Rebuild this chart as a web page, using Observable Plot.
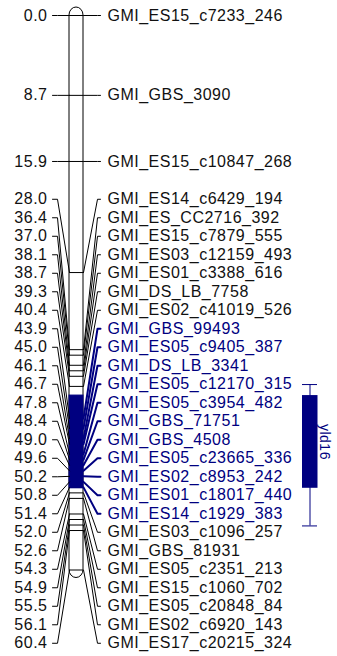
<!DOCTYPE html>
<html><head><meta charset="utf-8">
<script src="https://cdn.jsdelivr.net/npm/d3@7"></script>
<script src="https://cdn.jsdelivr.net/npm/@observablehq/plot@0.6"></script>
<style>
body{margin:0;background:#fff}
svg text{letter-spacing:0.5px}
</style>
</head><body>
<script>
// ---- data ----
const markerNames = [
  "GMI_ES15_c7233_246","GMI_GBS_3090","GMI_ES15_c10847_268","GMI_ES14_c6429_194",
  "GMI_ES_CC2716_392","GMI_ES15_c7879_555","GMI_ES03_c12159_493","GMI_ES01_c3388_616",
  "GMI_DS_LB_7758","GMI_ES02_c41019_526","GMI_GBS_99493","GMI_ES05_c9405_387",
  "GMI_DS_LB_3341","GMI_ES05_c12170_315","GMI_ES05_c3954_482","GMI_GBS_71751",
  "GMI_GBS_4508","GMI_ES05_c23665_336","GMI_ES02_c8953_242","GMI_ES01_c18017_440",
  "GMI_ES14_c1929_383","GMI_ES03_c1096_257","GMI_GBS_81931","GMI_ES05_c2351_213",
  "GMI_ES15_c1060_702","GMI_ES05_c20848_84","GMI_ES02_c6920_143","GMI_ES17_c20215_324"
];
const markerPositions = [
  0.0, 8.7, 15.9, 28.0, 36.4, 37.0, 38.1, 38.7, 39.3, 40.4, 43.9, 45.0, 46.1, 46.7,
  47.8, 48.4, 49.0, 49.6, 50.2, 50.8, 51.4, 52.0, 52.6, 54.3, 54.9, 55.5, 56.1, 60.4
];
const qtlName = "yld16";
const qtlBox = [41.4, 51.5];
const qtlWhisker = [40.2, 55.6];

// ---- layout ----
const W = 337, H = 656;
const yTop = 15, yBottom = 569.5;
const barL = 69, barR = 83;
const labelGap = 18.5;
const navy = "#000080";
const ink = "#111";
const chrLen = d3.max(markerPositions);

const yScale = d3.scaleLinear().domain([0, chrLen]).range([yTop, yBottom]);
const px = markerPositions.map(yScale);
let groups = px.map((p, i) => ({a: i, b: i}));
function span(g) {
  const c = (px[g.a] + px[g.b]) / 2, n = g.b - g.a + 1;
  return {top: c - (n - 1) / 2 * labelGap, bottom: c + (n - 1) / 2 * labelGap};
}
let merged = true;
while (merged) {
  merged = false;
  for (let k = 0; k < groups.length - 1; k++) {
    const A = span(groups[k]), B = span(groups[k + 1]);
    if (B.top - A.bottom < labelGap - 1e-9) {
      groups.splice(k, 2, {a: groups[k].a, b: groups[k + 1].b});
      merged = true; break;
    }
  }
}
const labelPx = [];
groups.forEach(g => { const s = span(g); for (let i = g.a; i <= g.b; i++) labelPx[i] = s.top + (i - g.a) * labelGap; });

const markers = markerNames.map((name, i) => ({
  i, name, pos: markerPositions[i], lab: yScale.invert(labelPx[i]),
  inQtl: markerPositions[i] >= qtlBox[0] && markerPositions[i] <= qtlBox[1]
}));
const leftPts = markers.flatMap(m => [
  {i: m.i, x: 52, y: m.lab}, {i: m.i, x: 57, y: m.lab}, {i: m.i, x: barL, y: m.pos}
]);
const rightPts = markers.flatMap(m => [
  {i: m.i, q: m.inQtl, x: barR, y: m.pos}, {i: m.i, q: m.inQtl, x: 97, y: m.lab}, {i: m.i, q: m.inQtl, x: 100, y: m.lab}
]);
const qtl = {name: qtlName, b0: qtlBox[0], b1: qtlBox[1], w0: qtlWhisker[0], w1: qtlWhisker[1]};

const chart = Plot.plot({
  width: W, height: H, margin: 0,
  x: {domain: [0, W], range: [0, W], axis: null},
  y: {domain: [0, chrLen], range: [yTop, yBottom], axis: null},
  style: {fontFamily: '"Liberation Sans", Arial, sans-serif', fontSize: "16px", background: "#fff"},
  marks: [
    Plot.rect([{a: 0, b: chrLen}], {x1: d => barL, x2: d => barR, y1: "a", y2: "b",
      fill: "white", stroke: "black", strokeWidth: 1, insetTop: -8, insetBottom: -8, rx: 7, ry: 8}),
    Plot.ruleY(markers, {y: "pos", x1: d => barL, x2: d => barR, stroke: "black", strokeWidth: 1}),
    Plot.rect([qtl], {x1: d => barL, x2: d => barR, y1: "b0", y2: "b1", fill: navy, stroke: navy}),
    Plot.line(leftPts, {x: "x", y: "y", z: "i", stroke: "black", strokeWidth: 1}),
    Plot.line(rightPts.filter(d => !d.q), {x: "x", y: "y", z: "i", stroke: "black", strokeWidth: 1}),
    Plot.line(rightPts.filter(d => d.q), {x: "x", y: "y", z: "i", stroke: navy, strokeWidth: 2}),
    Plot.text(markers, {x: d => 47, y: "lab", text: d => d.pos.toFixed(1), textAnchor: "end", fill: ink}),
    Plot.text(markers.filter(d => !d.inQtl), {x: d => 107, y: "lab", text: "name", textAnchor: "start", fill: ink}),
    Plot.text(markers.filter(d => d.inQtl), {x: d => 107, y: "lab", text: "name", textAnchor: "start", fill: navy}),
    Plot.ruleX([qtl], {x: d => 309.5, y1: "w0", y2: "w1", stroke: navy, strokeWidth: 1}),
    Plot.ruleY([qtl.w0, qtl.w1], {y: d => d, x1: d => 302, x2: d => 317, stroke: navy, strokeWidth: 1}),
    Plot.rect([qtl], {x1: d => 302, x2: d => 317.5, y1: "b0", y2: "b1", fill: navy}),
    Plot.text([qtl], {x: d => 324, y: d => (d.b0 + d.b1) / 2, text: "name", rotate: 90, fill: navy, fontSize: 14})
  ]
});
document.body.appendChild(chart);
</script>
</body></html>
